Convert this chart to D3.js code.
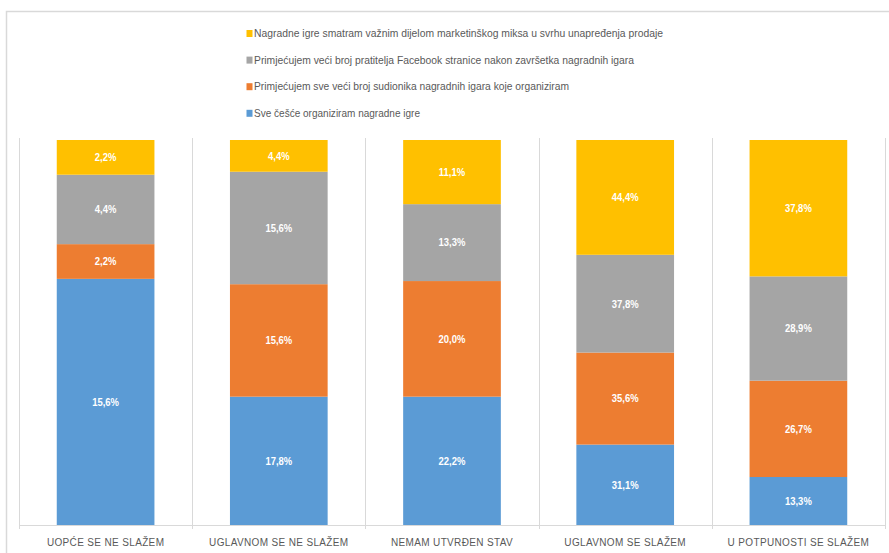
<!DOCTYPE html>
<html>
<head>
<meta charset="utf-8">
<script src="https://cdn.jsdelivr.net/npm/d3@7/dist/d3.min.js"></script>
<style>
  html, body { margin: 0; padding: 0; background: #fff; }
  svg { display: block; font-family: "Liberation Sans", Arial, sans-serif; }
</style>
</head>
<body>
<svg id="chart" width="889" height="553"></svg>
<script>
// Answer categories (x axis)
const categories = [
  "UOPĆE SE NE SLAŽEM",
  "UGLAVNOM SE NE SLAŽEM",
  "NEMAM UTVRĐEN STAV",
  "UGLAVNOM SE SLAŽEM",
  "U POTPUNOSTI SE SLAŽEM"
];

// Statement names, bottom of the stack first
const seriesNames = [
  "Sve češće organiziram nagradne igre",
  "Primjećujem sve veći broj sudionika nagradnih igara koje organiziram",
  "Primjećujem veći broj pratitelja Facebook stranice nakon završetka nagradnih igara",
  "Nagradne igre smatram važnim dijelom marketinškog miksa u svrhu unapređenja prodaje"
];

// Percentages per category, one array per statement
const sveCesce   = [15.6, 17.8, 22.2, 31.1, 13.3];
const sveVeci    = [2.2, 15.6, 20.0, 35.6, 26.7];
const pratitelji = [4.4, 15.6, 13.3, 37.8, 28.9];
const marketing  = [2.2, 4.4, 11.1, 44.4, 37.8];

const seriesColors = ["#5B9BD5", "#ED7D31", "#A5A5A5", "#FFC000"];
const legendWidths = [166, 315, 380, 409];

const seriesValues = [sveCesce, sveVeci, pratitelji, marketing];
const keys = ["s0", "s1", "s2", "s3"];
const rows = categories.map((c, i) => {
  const r = { category: c };
  keys.forEach((k, j) => { r[k] = seriesValues[j][i]; });
  return r;
});

const svg = d3.select("#chart");

// Chart frame
svg.append("path")
  .attr("d", "M6.5,553 V11.5 H889")
  .attr("fill", "none")
  .attr("stroke", "#D9D9D9")
  .attr("stroke-width", 1.5);

const plot = { left: 19, right: 885, top: 140, bottom: 525 };

const x = d3.scaleBand()
  .domain(categories)
  .range([plot.left, plot.right])
  .paddingInner(0.436)
  .paddingOuter(0.218);

const y = d3.scaleLinear()
  .domain([0, 1])
  .range([plot.bottom, plot.top]);

const stacked = d3.stack()
  .keys(keys)
  .offset(d3.stackOffsetExpand)(rows);

// Category separators
const step = x.step();
const bounds = [x(categories[0]) + x.bandwidth() / 2 - step / 2]
  .concat(categories.map(c => x(c) + x.bandwidth() / 2 + step / 2));
svg.append("g")
  .selectAll("line")
  .data(bounds)
  .join("line")
  .attr("x1", d => Math.round(d) + 0.5)
  .attr("x2", d => Math.round(d) + 0.5)
  .attr("y1", 138)
  .attr("y2", plot.bottom + 4)
  .attr("stroke", "#D9D9D9")
  .attr("stroke-width", 1);

// Stacked bars
const layers = svg.append("g")
  .selectAll("g")
  .data(stacked)
  .join("g")
  .attr("fill", (d, i) => seriesColors[i]);

layers.selectAll("rect")
  .data(d => d)
  .join("rect")
  .attr("x", d => x(d.data.category))
  .attr("width", x.bandwidth())
  .attr("y", d => y(d[1]))
  .attr("height", d => y(d[0]) - y(d[1]));

// Value labels (narrowed to a condensed look)
const fmt = v => v.toFixed(1).replace(".", ",") + "%";
svg.append("g")
  .selectAll("g")
  .data(stacked)
  .join("g")
  .selectAll("text")
  .data((layer, i) => layer.map(d => ({ d, v: seriesValues[i][categories.indexOf(d.data.category)] })))
  .join("text")
  .attr("x", o => x(o.d.data.category) + x.bandwidth() / 2)
  .attr("y", o => (y(o.d[0]) + y(o.d[1])) / 2)
  .attr("dy", "0.35em")
  .attr("text-anchor", "middle")
  .attr("fill", "#FFFFFF")
  .attr("font-size", 11)
  .attr("font-weight", "bold")
  .text(o => fmt(o.v))
  .each(function () {
    const w = this.getComputedTextLength();
    d3.select(this)
      .attr("textLength", w * 0.86)
      .attr("lengthAdjust", "spacingAndGlyphs");
  });

// Category axis
const xAxis = d3.axisBottom(x).tickSize(0).tickPadding(14);
const ax = svg.append("g")
  .attr("transform", `translate(0,${plot.bottom})`)
  .call(xAxis);
ax.select(".domain")
  .attr("d", `M${plot.left},0.5H${plot.right}`)
  .attr("stroke", "#D9D9D9")
  .attr("stroke-width", 1);
ax.selectAll("text")
  .attr("fill", "#595959")
  .attr("font-size", 10)
  .attr("font-family", "'Liberation Sans', Arial, sans-serif")
  .attr("letter-spacing", "0.35px");

// Legend, top series first
const legendOrder = [3, 2, 1, 0];
const legend = svg.append("g");
legendOrder.forEach((si, row) => {
  const cy = 33.5 + row * 26.6;
  legend.append("rect")
    .attr("x", 246.5)
    .attr("y", cy - 3.5)
    .attr("width", 6)
    .attr("height", 7)
    .attr("fill", seriesColors[si]);
  legend.append("text")
    .attr("x", 254)
    .attr("y", cy)
    .attr("dy", "0.35em")
    .attr("fill", "#595959")
    .attr("font-size", 10.5)
    .attr("textLength", legendWidths[si])
    .attr("lengthAdjust", "spacingAndGlyphs")
    .text(seriesNames[si]);
});
</script>
</body>
</html>
